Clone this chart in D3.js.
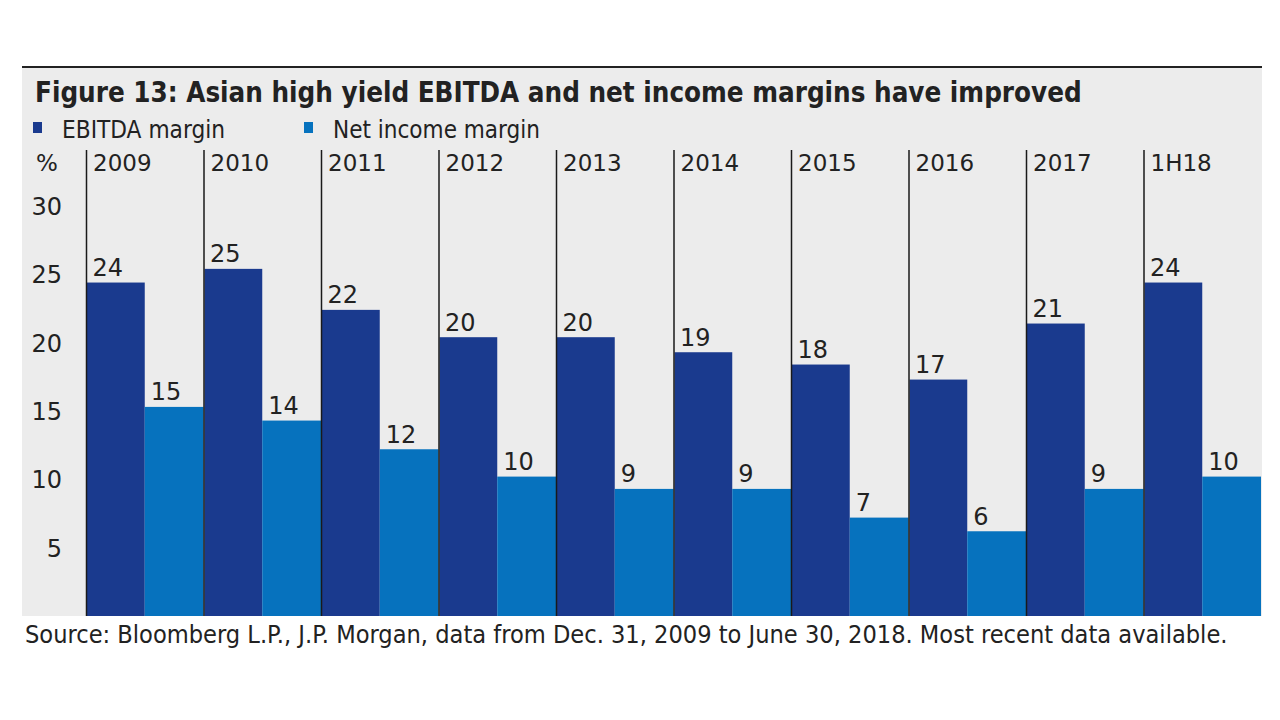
<!DOCTYPE html>
<html>
<head>
<meta charset="utf-8">
<script src="https://cdn.jsdelivr.net/npm/d3@7"></script>
<style>
  html, body { margin: 0; padding: 0; background: #ffffff; }
  svg text { font-family: "DejaVu Sans", Verdana, sans-serif; fill: #222; }
  svg text.cond { font-family: "DejaVu Sans Condensed", "DejaVu Sans", sans-serif; font-stretch: condensed; }
</style>
</head>
<body>
<svg id="chart" width="1280" height="720"></svg>
<script>
const categories = ["2009", "2010", "2011", "2012", "2013", "2014", "2015", "2016", "2017", "1H18"];
const ebitdaMargin = [24.4, 25.4, 22.4, 20.4, 20.4, 19.3, 18.4, 17.3, 21.4, 24.4];
const netIncomeMargin = [15.3, 14.3, 12.2, 10.2, 9.3, 9.3, 7.2, 6.2, 9.3, 10.2];
const yTicks = [5, 10, 15, 20, 25, 30];
const seriesNames = ["EBITDA margin", "Net income margin"];
const titleText = "Figure 13: Asian high yield EBITDA and net income margins have improved";
const sourceText = "Source: Bloomberg L.P., J.P. Morgan, data from Dec. 31, 2009 to June 30, 2018. Most recent data available.";

(function () {
const colors = ["#1a3a8e", "#0672be"];
const svg = d3.select("#chart");

function fit(sel, target) {
  const node = sel.node();
  const fs = parseFloat(sel.attr("font-size"));
  const len = node.getComputedTextLength();
  sel.attr("font-size", (fs * target / len).toFixed(2));
}

// panel background
const pLeft = 22, pRight = 1262, pTop = 67, pBottom = 616;
svg.append("rect").attr("x", pLeft).attr("y", pTop).attr("width", pRight - pLeft).attr("height", pBottom - pTop).attr("fill", "#ececec");
svg.append("line").attr("x1", pLeft).attr("x2", pRight).attr("y1", pTop).attr("y2", pTop).attr("stroke", "#222").attr("stroke-width", 2);

// title
const title = svg.append("text").attr("class", "cond").attr("x", 35).attr("y", 101.5)
  .attr("font-weight", "bold").attr("font-size", 24).text(titleText);
fit(title, 1047);

// legend
const legendX = [33, 304];
const legendW = [163, 207];
seriesNames.forEach((n, i) => {
  svg.append("rect").attr("x", legendX[i]).attr("y", 122).attr("width", 9).attr("height", 11).attr("fill", colors[i]);
  const t = svg.append("text").attr("class", "cond").attr("x", legendX[i] + 29).attr("y", 137.5).attr("font-size", 22).text(n);
  fit(t, legendW[i]);
});

// scales
const x = d3.scaleBand().domain(categories).range([86, 1261]).paddingInner(0).paddingOuter(0);
const y = d3.scaleLinear().domain([0, 30]).range([pBottom, 206]);
const bw = x.bandwidth();

// y axis labels
const yAxis = d3.axisLeft(y).tickValues(yTicks).tickSize(0).tickPadding(0);
const gy = svg.append("g").attr("transform", "translate(62,0)").call(yAxis);
gy.select(".domain").remove();
gy.selectAll("text").attr("font-size", 24).attr("font-family", "DejaVu Sans, sans-serif").attr("fill", "#222").attr("dy", "0.36em");

svg.append("text").attr("x", 36).attr("y", 171).attr("font-size", 23).text("%");

// bars
const data = categories.map((c, i) => ({ c, e: ebitdaMargin[i], n: netIncomeMargin[i] }));
const g = svg.append("g");
g.selectAll(".ebitda").data(data).join("rect")
  .attr("x", d => x(d.c) + 1).attr("width", bw / 2 - 1)
  .attr("y", d => y(d.e)).attr("height", d => y(0) - y(d.e)).attr("fill", colors[0]);
g.selectAll(".net").data(data).join("rect")
  .attr("x", d => x(d.c) + bw / 2).attr("width", bw / 2)
  .attr("y", d => y(d.n)).attr("height", d => y(0) - y(d.n)).attr("fill", colors[1]);

// category separators and labels
g.selectAll(".sep").data(data).join("line")
  .attr("x1", d => x(d.c) + 0.5).attr("x2", d => x(d.c) + 0.5)
  .attr("y1", 150).attr("y2", pBottom).attr("stroke", "#1a1a1a").attr("stroke-width", 1.5);
g.selectAll(".cat").data(data).join("text")
  .attr("x", d => x(d.c) + 7).attr("y", 171).attr("font-size", 23).text(d => d.c);

// value labels
const fmt = d3.format(".0f");
g.selectAll(".ve").data(data).join("text")
  .attr("x", d => x(d.c) + 6.5).attr("y", d => y(d.e) - 6.5).attr("font-size", 24).text(d => fmt(d.e));
g.selectAll(".vn").data(data).join("text")
  .attr("x", d => x(d.c) + bw / 2 + 6).attr("y", d => y(d.n) - 6.5).attr("font-size", 24).text(d => fmt(d.n));

// source
const src = svg.append("text").attr("class", "cond").attr("x", 25).attr("y", 643).attr("font-size", 21).text(sourceText);
fit(src, 1203);
})();
</script>
</body>
</html>
